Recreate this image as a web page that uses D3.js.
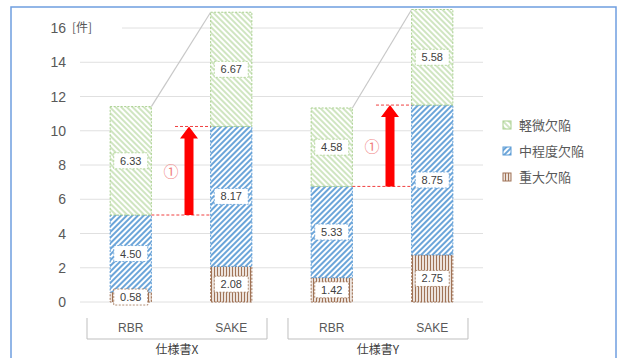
<!DOCTYPE html>
<html>
<head>
<meta charset="utf-8">
<script src="https://cdn.jsdelivr.net/npm/d3@7/dist/d3.min.js"></script>
<style>
  body { margin: 0; background: #fff; }
  svg { display: block; }
  text { font-family: "Noto Sans CJK JP", "Noto Sans", sans-serif; }
</style>
</head>
<body>
<div id="chart"></div>
<script>
// data
let categories = ["RBR", "SAKE", "RBR", "SAKE"];
let groups = ["仕様書X", "仕様書Y"];
let seriesNames = ["重大欠陥", "中程度欠陥", "軽微欠陥"];
let major = [0.58, 2.08, 1.42, 2.75];
let moderate = [4.50, 8.17, 5.33, 8.75];
let minor = [6.33, 6.67, 4.58, 5.58];
let yTicks = [0, 2, 4, 6, 8, 10, 12, 14, 16];

let WIDTH = 618, HEIGHT = 358;
let colors = ["#a07356", "#5b9bd5", "#a9d08e"];

let svg = d3.select("#chart").append("svg")
    .attr("width", WIDTH)
    .attr("height", HEIGHT);

// patterns
let defs = svg.append("defs");
function hatch(id, color, angle, gap, sw) {
    let p = defs.append("pattern")
        .attr("id", id)
        .attr("patternUnits", "userSpaceOnUse")
        .attr("width", gap).attr("height", gap)
        .attr("patternTransform", "rotate(" + angle + ")");
    p.append("rect").attr("width", gap).attr("height", gap).attr("fill", "#fff");
    p.append("line")
        .attr("x1", gap / 2).attr("x2", gap / 2)
        .attr("y1", 0).attr("y2", gap)
        .attr("stroke", color).attr("stroke-width", sw);
}
hatch("p0", colors[0], 0, 3, 1.4);
hatch("p1", colors[1], 45, 4, 1.8);
hatch("p2", colors[2], -45, 4, 1.1);

// outer frame
svg.append("rect")
    .attr("x", 11).attr("y", 7)
    .attr("width", 605).attr("height", 390)
    .attr("fill", "none")
    .attr("stroke", "#6f9ee0")
    .attr("stroke-width", 1.5);

let x = d3.scaleBand()
    .domain(d3.range(categories.length))
    .range([80, 483])
    .paddingInner(0.59)
    .paddingOuter(0.3);

let y = d3.scaleLinear()
    .domain([0, 16])
    .range([302, 28]);

// grid
svg.selectAll(".grid")
    .data(yTicks)
    .enter()
    .append("line")
    .attr("x1", 80).attr("x2", 483)
    .attr("y1", d => y(d)).attr("y2", d => y(d))
    .attr("stroke", "#e0e0e0")
    .attr("stroke-width", 1);

svg.selectAll(".ytick")
    .data(yTicks)
    .enter()
    .append("text")
    .attr("x", 66)
    .attr("y", d => y(d) + 5)
    .attr("text-anchor", "end")
    .attr("fill", "#595959")
    .style("font-family", "'Liberation Sans', sans-serif")
    .style("font-size", "14px")
    .text(d => d);

svg.append("rect")
    .attr("x", 70).attr("y", y(16) - 9)
    .attr("width", 52).attr("height", 18)
    .attr("fill", "#fff");
svg.append("text")
    .attr("x", 72).attr("y", y(16) + 4)
    .attr("fill", "#595959")
    .style("font-size", "12px")
    .text("[件]");

// stacked bars
let rows = categories.map((c, i) => ({ i: i, s0: major[i], s1: moderate[i], s2: minor[i] }));
let stack = d3.stack().keys(["s0", "s1", "s2"])(rows);

let bw = x.bandwidth();

// series lines between top segments
[[0, 1], [2, 3]].forEach(pair => {
    let a = stack[2][pair[0]], b = stack[2][pair[1]];
    svg.append("line")
        .attr("x1", x(pair[0]) + bw).attr("y1", y(a[1]))
        .attr("x2", x(pair[1])).attr("y2", y(b[1]))
        .attr("stroke", "#c8c8c8")
        .attr("stroke-width", 1.2);
});

stack.forEach((layer, k) => {
    svg.selectAll(".seg" + k)
        .data(layer)
        .enter()
        .append("rect")
        .attr("x", d => x(d.data.i))
        .attr("y", d => y(d[1]))
        .attr("width", bw)
        .attr("height", d => y(d[0]) - y(d[1]))
        .attr("fill", "url(#p" + k + ")")
        .attr("stroke", colors[k])
        .attr("stroke-width", 1)
        .attr("stroke-dasharray", "2,1.5");
});

// data labels
stack.forEach((layer, k) => {
    let g = svg.selectAll(".lab" + k)
        .data(layer)
        .enter()
        .append("g")
        .attr("transform", d => "translate(" + (x(d.data.i) + bw / 2) + "," + y((d[0] + d[1]) / 2) + ")");
    g.append("rect")
        .attr("x", -17).attr("y", -8)
        .attr("width", 34).attr("height", 16)
        .attr("fill", "#fff")
        .attr("stroke", colors[k])
        .attr("stroke-width", 0.8)
        .attr("stroke-dasharray", "2,1.5");
    g.append("text")
        .attr("y", 4)
        .attr("text-anchor", "middle")
        .attr("fill", "#404040")
        .style("font-family", "'Liberation Sans', sans-serif")
        .style("font-size", "11px")
        .text(d => (d[1] - d[0]).toFixed(2));
});

// red arrows
[[0, 1], [2, 3]].forEach(pair => {
    let lo = stack[1][pair[0]][1], hi = stack[1][pair[1]][1];
    let xl = x(pair[0]) + bw, xr = x(pair[1]);
    let mid = (xl + xr) / 2;
    let ax = mid + 8;
    svg.append("line")
        .attr("x1", xl).attr("x2", xr)
        .attr("y1", y(lo)).attr("y2", y(lo))
        .attr("stroke", "#f04040").attr("stroke-width", 1)
        .attr("stroke-dasharray", "3,2");
    svg.append("line")
        .attr("x1", ax - 14).attr("x2", xr)
        .attr("y1", y(hi)).attr("y2", y(hi))
        .attr("stroke", "#f04040").attr("stroke-width", 1)
        .attr("stroke-dasharray", "3,2");
    let top = y(hi), bot = y(lo);
    svg.append("path")
        .attr("d", d3.line()([
            [ax - 4.5, bot], [ax - 4.5, top + 12], [ax - 9, top + 12], [ax, top],
            [ax + 9, top + 12], [ax + 4.5, top + 12], [ax + 4.5, bot]
        ]) + "Z")
        .attr("fill", "#ff0000");
    svg.append("text")
        .attr("x", mid - 10)
        .attr("y", (top + bot) / 2 + 6)
        .attr("text-anchor", "middle")
        .attr("fill", "#f08080")
        .style("font-size", "15px")
        .text("①");
});

// category axis
svg.selectAll(".cat")
    .data(categories)
    .enter()
    .append("text")
    .attr("x", (d, i) => x(i) + bw / 2)
    .attr("y", 332)
    .attr("text-anchor", "middle")
    .attr("fill", "#595959")
    .style("font-family", "'Liberation Sans', sans-serif")
    .style("font-size", "12px")
    .text(d => d);

groups.forEach((gname, gi) => {
    let c = (x(gi * 2) + x(gi * 2 + 1) + bw) / 2 - 4;
    svg.append("path")
        .attr("d", "M" + (c - 90) + ",318V339H" + (c + 90) + "V318")
        .attr("fill", "none")
        .attr("stroke", "#bfbfbf")
        .attr("stroke-width", 1);
    svg.append("text")
        .attr("x", c)
        .attr("y", 354)
        .attr("text-anchor", "middle")
        .attr("fill", "#404040")
        .style("font-size", "12px")
        .text(gname);
});

// legend
let legendOrder = [2, 1, 0];
legendOrder.forEach((k, r) => {
    let ly = 125 + r * 26;
    svg.append("rect")
        .attr("x", 503).attr("y", ly - 4)
        .attr("width", 8).attr("height", 8)
        .attr("fill", "url(#p" + k + ")")
        .attr("stroke", colors[k])
        .attr("stroke-width", 1);
    svg.append("text")
        .attr("x", 519).attr("y", ly + 5)
        .attr("fill", "#595959")
        .style("font-size", "13px")
        .text(seriesNames[k]);
});
</script>
</body>
</html>
